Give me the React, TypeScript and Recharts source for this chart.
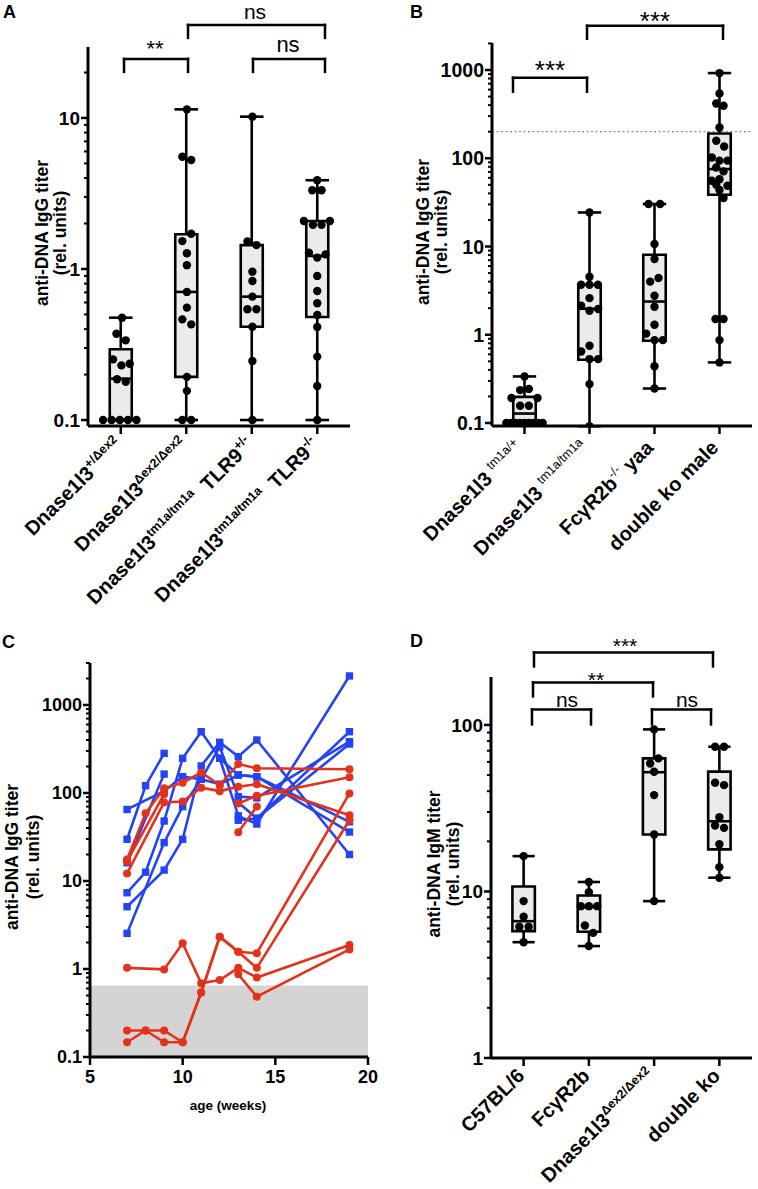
import React from 'react';
import { ComposedChart, XAxis, YAxis, Scatter, ReferenceArea, ReferenceLine } from 'recharts';

const FONT = "'Liberation Sans', Arial, Helvetica, sans-serif";
const AXIS = { stroke: '#000', strokeWidth: 3 };
const BOX_FILL = '#ebebeb';
const BLUE = '#2343f5';
const RED = '#e3321b';

type Part = { t: string; sup?: boolean };
type Bracket = { x1: number; x2: number; y: number; leg: number };

// ---------------- Panel A ----------------
const aLabels: Part[][] = [
  [{ t: 'Dnase1l3' }, { t: '+/Δex2', sup: true }],
  [{ t: 'Dnase1l3' }, { t: 'Δex2/Δex2', sup: true }],
  [{ t: 'Dnase1l3' }, { t: 'tm1a/tm1a', sup: true }, { t: '  TLR9' }, { t: '+/-', sup: true }],
  [{ t: 'Dnase1l3' }, { t: 'tm1a/tm1a', sup: true }, { t: '  TLR9' }, { t: '-/-', sup: true }],
];
// [min, q1, median, q3, max]
const aBoxes = [
  [0.1, 0.1, 0.188, 0.294, 0.476],
  [0.1, 0.193, 0.705, 1.7, 11.4],
  [0.1, 0.415, 0.656, 1.44, 10.2],
  [0.1, 0.481, 1.22, 2.08, 3.87],
];
// [x offset within group, value]
const aDots1 = [[0.02, 0.476], [-0.066, 0.373], [0.076, 0.337], [-0.117, 0.252], [0.01, 0.23], [0.137, 0.236], [-0.056, 0.186], [0.076, 0.179], [-0.27, 0.1], [-0.14, 0.1], [-0.015, 0.1], [0.11, 0.1], [0.24, 0.1]];
const aDots2 = [[0.01, 11.4], [-0.06, 5.54], [0.076, 5.27], [0.076, 1.71], [-0.06, 1.53], [0.01, 1.27], [0.01, 1.06], [0.01, 0.705], [0.01, 0.555], [-0.06, 0.464], [0.076, 0.43], [0.01, 0.193], [0.01, 0.156], [-0.06, 0.1], [0.076, 0.1]];
const aDots3 = [[0.01, 10.2], [-0.066, 1.52], [0.071, 1.44], [0.01, 0.96], [0.01, 0.833], [0.01, 0.656], [-0.066, 0.541], [0.071, 0.541], [0.01, 0.415], [0.01, 0.246], [0.01, 0.1]];
const aDots4 = [[0, 3.87], [-0.076, 3.32], [0.066, 3.32], [-0.204, 2.08], [-0.066, 1.96], [0.066, 1.96], [0.193, 2.08], [-0.127, 1.28], [0, 1.19], [0.127, 1.25], [0, 0.9], [0, 0.715], [0, 0.593], [0, 0.496], [0, 0.413], [0, 0.263], [0, 0.168], [0, 0.1]];
const aMajors = [0.1, 1, 10];
const aDomain = [0.0913, 29.5];
const aBrackets: Bracket[] = [
  { x1: 1.05, x2: 2.027, y: 24.6, leg: 20.2 },
  { x1: 2.027, x2: 4.118, y: 41.3, leg: 33.9 },
  { x1: 3.019, x2: 4.118, y: 24.6, leg: 20.2 },
];

// ---------------- Panel B ----------------
const bLabels: Part[][] = [
  [{ t: 'Dnase1l3 ' }, { t: 'tm1a/+', sup: true }],
  [{ t: 'Dnase1l3 ' }, { t: 'tm1a/tm1a', sup: true }],
  [{ t: 'FcγR2b' }, { t: '-/-', sup: true }, { t: ' yaa' }],
  [{ t: 'double ko male' }],
];
const bBoxes = [
  [0.1, 0.1, 0.128, 0.198, 0.337],
  [0.092, 0.521, 1.97, 3.69, 24.3],
  [0.246, 0.855, 2.38, 8.07, 30.3],
  [0.486, 38.6, 75.4, 191, 923],
];
const bDots1 = [[0, 0.337], [-0.067, 0.236], [0.067, 0.243], [-0.2, 0.192], [0.2, 0.192], [-0.067, 0.157], [0.067, 0.157], [-0.28, 0.1], [-0.21, 0.1], [-0.14, 0.1], [-0.07, 0.1], [0, 0.1], [0.07, 0.1], [0.14, 0.1], [0.21, 0.1], [0.28, 0.1]];
const bDots2 = [[0, 24.3], [0, 4.54], [-0.13, 3.69], [0, 3.69], [0.13, 3.69], [0, 2.6], [-0.128, 2.13], [0, 1.87], [0.133, 1.96], [0, 0.75], [-0.128, 0.647], [0, 0.53], [0.133, 0.53], [0, 0.276], [0, 0.092]];
const bDots3 = [[-0.092, 30.3], [0.087, 30.3], [0, 10.7], [0, 7.2], [-0.067, 4.0], [0.062, 4.4], [0, 2.77], [0, 2.08], [0, 1.3], [-0.128, 1.03], [0, 0.87], [0.128, 0.87], [0, 0.44], [0, 0.246]];
const bDots4 = [[0, 923], [0, 543], [-0.05, 418], [0.062, 394], [0, 223], [-0.05, 158], [0.072, 136], [-0.118, 102], [0, 94], [0.123, 94], [-0.05, 78.7], [0.062, 71], [0, 57.9], [-0.118, 55.6], [0.123, 48.8], [-0.05, 50], [0, 43.7], [0.062, 35.4], [-0.062, 1.51], [0.062, 1.51], [0, 0.87], [0, 0.486]];
const bMajors = [0.1, 1, 10, 100, 1000];
const bDomain = [0.0925, 2023];
const bThreshold = 200;
const bBrackets: Bracket[] = [
  { x1: 0.823, x2: 1.962, y: 817, leg: 567 },
  { x1: 1.962, x2: 4.054, y: 3172, leg: 2260 },
];

// ---------------- Panel C ----------------
const cWeeksTicks = [5, 10, 15, 20];
const cMajors = [0.1, 1, 10, 100, 1000];
const cDomain = [0.1, 3000];
const cBackground = [0.1, 0.65];
const cBlue = [
  [[7, 65], [9, 105], [10, 153], [11, 143], [12, 126], [13, 160], [14, 153], [19, 47]],
  [[7, 29.8], [8, 121], [9, 282]],
  [[7, 16.1], [9, 164]],
  [[7, 7.36], [8, 12.6], [9, 48], [10, 248], [11, 497], [12, 248], [13, 55], [14, 44.4], [19, 2137]],
  [[7, 2.54], [9, 27.3], [10, 70], [11, 143], [12, 334], [13, 91], [14, 88], [19, 383]],
  [[7, 5.1], [9, 13.3], [10, 29.8], [11, 203], [12, 377], [13, 259], [14, 400], [19, 20]],
  [[13, 78], [14, 51.5], [19, 497]],
  [[13, 49], [14, 51.5], [19, 360]],
  [[12, 248], [13, 160], [14, 153], [19, 36]],
];
const cRed = [
  [[7, 17.6], [8, 58.8], [9, 113], [10, 131], [11, 171], [12, 123], [13, 213], [14, 191], [19, 186]],
  [[7, 12.2], [9, 78], [10, 80], [11, 115], [12, 105], [13, 118], [14, 126], [19, 56]],
  [[7, 16.8], [9, 97]],
  [[7, 1.03], [9, 0.99], [10, 1.96], [11, 0.69], [12, 0.75], [13, 1.03], [14, 0.8], [19, 1.87]],
  [[7, 0.2], [8, 0.2], [9, 0.2], [10, 0.147], [11, 0.54], [12, 2.33], [13, 1.57], [14, 1.03], [19, 49]],
  [[7, 0.147], [8, 0.2], [9, 0.147], [10, 0.147], [11, 0.54], [12, 2.33], [13, 1.57], [14, 1.51], [19, 99]],
  [[13, 0.87], [14, 0.485], [19, 1.67]],
  [[13, 76], [14, 93], [19, 151]],
  [[13, 35.7], [14, 70]],
];

// ---------------- Panel D ----------------
const dLabels: Part[][] = [
  [{ t: 'C57BL/6' }],
  [{ t: 'FcγR2b' }],
  [{ t: 'Dnase1l3' }, { t: 'Δex2/Δex2', sup: true }],
  [{ t: 'double ko' }],
];
const dBoxes = [
  [4.96, 5.78, 6.63, 10.7, 16.3],
  [4.7, 5.73, 8.05, 9.46, 11.4],
  [8.75, 22, 52, 63, 94],
  [12.1, 17.9, 26.4, 52.4, 74],
];
const dDots1 = [[0, 16.3], [0, 8.75], [0, 7.05], [-0.066, 6.14], [0.077, 6.14], [0, 4.96]];
const dDots2 = [[0, 11.4], [0, 9.9], [-0.123, 8.16], [0, 8.16], [0.128, 8.16], [-0.061, 6.25], [0.066, 5.64], [0, 4.7]];
const dDots3 = [[0, 94], [-0.061, 58.7], [0.066, 63], [0, 52.3], [0, 37.9], [0, 22], [0, 8.75]];
const dDots4 = [[-0.066, 74], [0.072, 74], [-0.066, 45], [0.072, 43.5], [0, 27.9], [-0.066, 24.9], [0.072, 24.1], [0, 19.2], [0, 14], [0, 12.1]];
const dMajors = [1, 10, 100];
const dDomain = [1, 194];
const dBrackets: Bracket[] = [
  { x1: 1.159, x2: 3.902, y: 272.5, leg: 224.6 },
  { x1: 1.144, x2: 2.983, y: 180, leg: 148.3 },
  { x1: 1.128, x2: 2.033, y: 123.9, leg: 100.7 },
  { x1: 2.967, x2: 3.872, y: 123.9, leg: 100.7 },
];

// ---------------- Text annotations ----------------
const panelLetters = [
  { t: 'A', x: 3, y: 18 },
  { t: 'B', x: 410, y: 18 },
  { t: 'C', x: 2, y: 648 },
  { t: 'D', x: 410, y: 647 },
];
const yTitles = [
  { l1: 'anti-DNA IgG titer', l2: '(rel. units)', x1: 42, x2: 60, y: 233 },
  { l1: 'anti-DNA IgG titer', l2: '(rel. units)', x1: 423, x2: 441, y: 232 },
  { l1: 'anti-DNA IgG titer', l2: '(rel. units)', x1: 12, x2: 33, y: 857 },
  { l1: 'anti-DNA IgM titer', l2: '(rel. units)', x1: 434, x2: 453, y: 864 },
];
const sigLabels = [
  { t: '**', x: 155, y: 56, fs: 22 },
  { t: 'ns', x: 255, y: 19, fs: 21 },
  { t: 'ns', x: 288, y: 52, fs: 22 },
  { t: '***', x: 550, y: 79, fs: 26 },
  { t: '***', x: 655, y: 30, fs: 26 },
  { t: 'ns', x: 567, y: 707, fs: 21 },
  { t: 'ns', x: 687, y: 707, fs: 21 },
  { t: '**', x: 596, y: 687, fs: 21 },
  { t: '***', x: 625, y: 653, fs: 21 },
];

// ---------------- helpers ----------------
function buildLogTicks(majors: number[], top: number) {
  const out: number[] = [];
  majors.forEach((m) => {
    out.push(m);
    for (let k = 2; k <= 9; k++) {
      const v = +(m * k).toPrecision(6);
      if (v <= top) out.push(v);
    }
  });
  return out;
}

function LogTick(props: any) {
  const { x, y, payload, majors, fs } = props;
  const v = payload.value;
  const major = majors.some((m: number) => Math.abs(m - v) < m * 1e-6);
  return (
    <g>
      <line x1={x - (major ? 7 : 4)} x2={x} y1={y} y2={y} stroke="#000" strokeWidth={major ? 2.5 : 2} />
      {major && (
        <text x={x - 8} y={y} dy="0.36em" textAnchor="end" fontFamily={FONT} fontWeight="bold" fontSize={fs} fill="#000">
          {String(v)}
        </text>
      )}
    </g>
  );
}

function CatTick(props: any) {
  const { x, y, payload, labels, dx, dy, fs, supFs, supBold } = props;
  const parts: Part[] = labels[Math.round(payload.value) - 1] || [];
  let cur = 0;
  return (
    <g>
      <line x1={x} x2={x} y1={y} y2={y + 8} stroke="#000" strokeWidth={2.5} />
      <text
        transform={`translate(${x + dx},${y + dy}) rotate(-45)`}
        textAnchor="end"
        fontFamily={FONT}
        fontWeight="bold"
        fontSize={fs}
        fill="#000"
        style={{ whiteSpace: 'pre' }}
      >
        {parts.map((p, i) => {
          const target = p.sup ? -8.5 : 0;
          const d = target - cur;
          cur = target;
          return (
            <tspan key={i} dy={d} fontSize={p.sup ? supFs : fs} fontWeight={p.sup && !supBold ? 'normal' : 'bold'}>
              {p.t}
            </tspan>
          );
        })}
      </text>
    </g>
  );
}

function NumTick(props: any) {
  const { x, y, payload } = props;
  return (
    <g>
      <line x1={x} x2={x} y1={y} y2={y + 8} stroke="#000" strokeWidth={2.5} />
      <text x={x} y={y + 26} textAnchor="middle" fontFamily={FONT} fontWeight="bold" fontSize={18} fill="#000">
        {String(payload.value)}
      </text>
    </g>
  );
}

const dotShape = (p: any) => <circle cx={p.cx} cy={p.cy} r={4.2} fill="#000" />;
const squareShape = (p: any) => <rect x={p.cx - 3.7} y={p.cy - 3.7} width={7.4} height={7.4} fill={BLUE} />;
const circleShape = (p: any) => <circle cx={p.cx} cy={p.cy} r={4} fill={RED} />;

function bracketLines(brackets: Bracket[], key: string) {
  const out: any[] = [];
  brackets.forEach((b, i) => {
    const segs = [
      [{ x: b.x1, y: b.leg }, { x: b.x1, y: b.y }],
      [{ x: b.x1, y: b.y }, { x: b.x2, y: b.y }],
      [{ x: b.x2, y: b.y }, { x: b.x2, y: b.leg }],
    ];
    segs.forEach((s, j) =>
      out.push(
        <ReferenceLine key={`${key}-br-${i}-${j}`} segment={s} stroke="#000" strokeWidth={2.5} strokeLinecap="square" ifOverflow="visible" />
      )
    );
  });
  return out;
}

type BoxPanelProps = {
  left: number;
  top: number;
  width: number;
  height: number;
  margin: any;
  xHeight: number;
  domain: number[];
  majors: number[];
  boxes: number[][];
  dots: number[][][];
  labels: Part[][];
  brackets: Bracket[];
  boxHalf: number;
  capHalf: number;
  supBold: boolean;
  labelDx: number;
  labelDy: number;
  labelFs: number;
  tickFs: number;
  name: string;
  threshold?: number;
};

function BoxPanel(p: BoxPanelProps) {
  const ticks = buildLogTicks(p.majors, p.domain[1]);
  const dotData = p.dots.flatMap((g, gi) => g.map(([dx, v]) => ({ x: gi + 1 + dx, y: v })));
  const elems: any[] = [];
  p.boxes.forEach((b, i) => {
    const c = i + 1;
    elems.push(
      <ReferenceArea key={`${p.name}-box-${i}`} x1={c - p.boxHalf} x2={c + p.boxHalf} y1={b[1]} y2={b[3]} fill={BOX_FILL} fillOpacity={1} stroke="#000" strokeWidth={2.6} ifOverflow="visible" />
    );
    const segs = [
      [{ x: c, y: b[0] }, { x: c, y: b[1] }],
      [{ x: c, y: b[3] }, { x: c, y: b[4] }],
      [{ x: c - p.capHalf, y: b[0] }, { x: c + p.capHalf, y: b[0] }],
      [{ x: c - p.capHalf, y: b[4] }, { x: c + p.capHalf, y: b[4] }],
      [{ x: c - p.boxHalf, y: b[2] }, { x: c + p.boxHalf, y: b[2] }],
    ];
    segs.forEach((s, j) =>
      elems.push(<ReferenceLine key={`${p.name}-w-${i}-${j}`} segment={s} stroke="#000" strokeWidth={2.6} ifOverflow="visible" />)
    );
  });
  return (
    <div style={{ position: 'absolute', left: p.left, top: p.top }}>
      <ComposedChart width={p.width} height={p.height} margin={p.margin}>
        <XAxis
          type="number"
          dataKey="x"
          domain={[0.5, 4.5]}
          allowDataOverflow
          ticks={[1, 2, 3, 4]}
          interval={0}
          height={p.xHeight}
          tickSize={0}
          tickMargin={0}
          axisLine={AXIS}
          tickLine={false}
          tick={(tp: any) => (
            <CatTick {...tp} labels={p.labels} dx={p.labelDx} dy={p.labelDy} fs={p.labelFs} supFs={12.5} supBold={p.supBold} />
          )}
        />
        <YAxis
          type="number"
          dataKey="y"
          scale="log"
          domain={p.domain}
          allowDataOverflow
          ticks={ticks}
          interval={0}
          width={60}
          tickSize={0}
          tickMargin={0}
          axisLine={AXIS}
          tickLine={false}
          tick={(tp: any) => <LogTick {...tp} majors={p.majors} fs={p.tickFs} />}
        />
        {p.threshold !== undefined && (
          <ReferenceLine y={p.threshold} stroke="#8a8a8a" strokeWidth={1.3} strokeDasharray="2 2.5" />
        )}
        {elems}
        {bracketLines(p.brackets, p.name)}
        <Scatter data={dotData} fill="#000" shape={dotShape} isAnimationActive={false} />
      </ComposedChart>
    </div>
  );
}

function PanelC() {
  const ticks = buildLogTicks(cMajors, cDomain[1]);
  return (
    <div style={{ position: 'absolute', left: 0, top: 600 }}>
      <ComposedChart width={379} height={589} margin={{ top: 63, right: 11, bottom: 92, left: 30 }}>
        <XAxis
          type="number"
          dataKey="x"
          domain={[5, 20]}
          allowDataOverflow
          ticks={cWeeksTicks}
          interval={0}
          height={40}
          tickSize={0}
          tickMargin={0}
          axisLine={AXIS}
          tickLine={false}
          tick={(tp: any) => <NumTick {...tp} />}
        />
        <YAxis
          type="number"
          dataKey="y"
          scale="log"
          domain={cDomain}
          allowDataOverflow
          ticks={ticks}
          interval={0}
          width={60}
          tickSize={0}
          tickMargin={0}
          axisLine={AXIS}
          tickLine={false}
          tick={(tp: any) => <LogTick {...tp} majors={cMajors} fs={18} />}
        />
        <ReferenceArea x1={5} x2={20} y1={cBackground[0]} y2={cBackground[1]} fill="#d4d4d4" fillOpacity={1} stroke="none" />
        {cBlue.map((s, i) => (
          <Scatter
            key={`b${i}`}
            data={s.map(([x, y]) => ({ x, y }))}
            fill={BLUE}
            line={{ stroke: BLUE, strokeWidth: 2.6 }}
            lineType="joint"
            shape={squareShape}
            isAnimationActive={false}
          />
        ))}
        {cRed.map((s, i) => (
          <Scatter
            key={`r${i}`}
            data={s.map(([x, y]) => ({ x, y }))}
            fill={RED}
            line={{ stroke: RED, strokeWidth: 2.6 }}
            lineType="joint"
            shape={circleShape}
            isAnimationActive={false}
          />
        ))}
      </ComposedChart>
    </div>
  );
}

export default function App() {
  return (
    <div style={{ position: 'absolute', left: 0, top: 0, width: 758, height: 1189, background: '#fff', overflow: 'hidden' }}>
      <PanelC />
      <BoxPanel
        name="D"
        left={379}
        top={600}
        width={379}
        height={589}
        margin={{ top: 77, right: 6, bottom: 11, left: 52 }}
        xHeight={120}
        domain={dDomain}
        majors={dMajors}
        boxes={dBoxes}
        dots={[dDots1, dDots2, dDots3, dDots4]}
        labels={dLabels}
        brackets={dBrackets}
        boxHalf={0.172}
        capHalf={0.17}
        supBold={true}
        labelDx={2}
        labelDy={19}
        labelFs={20}
        tickFs={19}
      />
      <BoxPanel
        name="A"
        left={0}
        top={0}
        width={379}
        height={640}
        margin={{ top: 47, right: 29, bottom: 64, left: 28 }}
        xHeight={150}
        domain={aDomain}
        majors={aMajors}
        boxes={aBoxes}
        dots={[aDots1, aDots2, aDots3, aDots4]}
        labels={aLabels}
        brackets={aBrackets}
        boxHalf={0.168}
        capHalf={0.18}
        supBold={true}
        labelDx={3}
        labelDy={20}
        labelFs={20}
        tickFs={19}
      />
      <BoxPanel
        name="B"
        left={379}
        top={0}
        width={379}
        height={640}
        margin={{ top: 43, right: 6, bottom: 64, left: 53 }}
        xHeight={150}
        domain={bDomain}
        majors={bMajors}
        boxes={bBoxes}
        dots={[bDots1, bDots2, bDots3, bDots4]}
        labels={bLabels}
        brackets={bBrackets}
        boxHalf={0.173}
        capHalf={0.18}
        supBold={false}
        labelDx={0}
        labelDy={23}
        labelFs={20}
        tickFs={19.5}
        threshold={bThreshold}
      />
      <svg width={758} height={1189} style={{ position: 'absolute', left: 0, top: 0, pointerEvents: 'none' }}>
        {panelLetters.map((l) => (
          <text key={l.t} x={l.x} y={l.y} fontFamily={FONT} fontWeight="bold" fontSize={18} fill="#000">
            {l.t}
          </text>
        ))}
        {yTitles.map((t, i) => (
          <g key={i}>
            <text transform={`translate(${t.x1},${t.y}) rotate(-90)`} textAnchor="middle" dominantBaseline="central" fontFamily={FONT} fontWeight="bold" fontSize={17.5} fill="#000">
              {t.l1}
            </text>
            <text transform={`translate(${t.x2},${t.y}) rotate(-90)`} textAnchor="middle" dominantBaseline="central" fontFamily={FONT} fontWeight="bold" fontSize={17.5} fill="#000">
              {t.l2}
            </text>
          </g>
        ))}
        {sigLabels.map((s, i) => (
          <text key={i} x={s.x} y={s.y} textAnchor="middle" fontFamily={FONT} fontSize={s.fs} fill="#000">
            {s.t}
          </text>
        ))}
        <text x={228} y={1110} textAnchor="middle" fontFamily={FONT} fontWeight="bold" fontSize={13.5} fill="#000">
          age (weeks)
        </text>
      </svg>
    </div>
  );
}
